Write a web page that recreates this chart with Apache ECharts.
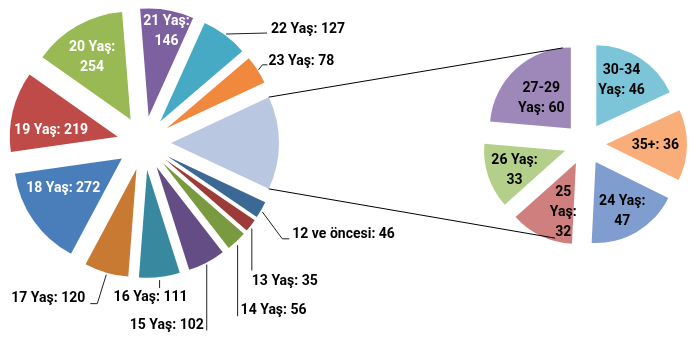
<!DOCTYPE html>
<html>
<head>
<meta charset="utf-8">
<script src="https://cdn.jsdelivr.net/npm/echarts@6/dist/echarts.min.js"></script>
<style>
  html, body { margin: 0; padding: 0; background: #ffffff; }
  #chart { width: 700px; height: 345px; }
</style>
</head>
<body>
<div id="chart"></div>
<script>
// Main pie: ages up to 23 plus one wedge grouping everyone older
const mainCategories = ['12 ve öncesi', '13 Yaş', '14 Yaş', '15 Yaş', '16 Yaş', '17 Yaş',
                        '18 Yaş', '19 Yaş', '20 Yaş', '21 Yaş', '22 Yaş', '23 Yaş'];
const mainValues = [46, 35, 56, 102, 111, 120, 272, 219, 254, 146, 127, 78];

// Secondary pie: breakdown of the grouped wedge
const subCategories = ['24 Yaş', '25 Yaş', '26 Yaş', '27-29 Yaş', '30-34 Yaş', '35+'];
const subValues = [47, 32, 33, 60, 46, 36];

// ---- styling ----
const mainColors = ['#3C6896', '#9C3B38', '#7A9A40', '#644C85', '#38899F', '#C87932',
                    '#4A7EBB', '#BE4B48', '#98B954', '#7D60A0', '#46AAC5', '#F0893E'];
const otherColor = '#B9C8E0';
const subColors = ['#7F9ECF', '#CF7F7D', '#B3CF8A', '#9E87B9', '#7CC4D8', '#F9AD78'];

// label wrapping: 'flat' one line, 'value' value on its own line,
// 'name' break before "Yaş", 'all' every word on its own line
const mainWrap = ['flat', 'flat', 'flat', 'flat', 'flat', 'flat', 'flat', 'flat', 'value', 'value', 'flat', 'flat'];
const subWrap = ['value', 'all', 'value', 'name', 'name', 'flat'];

// wedge-internal labels: [fraction of radius from the wedge tip, angular nudge in degrees]
const mainInsidePlacement = { 6: [0.61, -8], 7: [0.62, 8], 8: [0.68, 2], 9: [0.8, -2] };
const subInsidePlacement = [[0.69, -2], [0.63, 11], [0.67, 3], [0.52, 2], [0.65, 4], [0.61, -1]];

// leader lines for outside labels, relative to the middle of the wedge's outer arc:
// path: bend points, text: anchor, align: text alignment
const mainLeaders = {
  0:  { path: [[1, 2], [21, 29], [28, 29]], text: [31, 25], align: 'left' },
  1:  { path: [[1, 3], [1, 45]], text: [1, 56], align: 'left' },
  2:  { path: [[1, 4], [1, 75]], text: [4, 69], align: 'left' },
  3:  { path: [[0, 2], [0, 68]], text: [-3, 63], align: 'right' },
  4:  { path: [[0, 3], [0, 11]], text: [-9, 20], align: 'center' },
  5:  { path: [[0, 2], [-9, 31], [-16, 31]], text: [-21, 26], align: 'right' },
  10: { path: [[1, -1], [42, -2]], text: [46, -6], align: 'left' },
  11: { path: [[1, 0], [5, -5], [10, -5]], text: [11, -8], align: 'left' }
};

const FONT_FAMILY = 'Roboto, "Open Sans", "DejaVu Sans", sans-serif';
const FONT_SIZE = 14;
const LINE_HEIGHT = 20;

function wrapLabel(name, value, mode) {
  if (mode === 'value') return name + ':\n' + value;
  if (mode === 'all') return name.replace(' ', '\n') + ':\n' + value;
  if (mode === 'name') return name.replace(' ', '\n') + ': ' + value;
  return name + ': ' + value;
}

const sum = a => a.reduce((s, v) => s + v, 0);
const otherTotal = sum(subValues);
const mainTotal = sum(mainValues) + otherTotal;
// grouped wedge is centred on 3 o'clock, facing the secondary pie
const mainStart = -otherTotal / mainTotal * 180;
// secondary pie: boundary between 27-29 and 30-34 sits at 12 o'clock
const subStart = 90 - sum(subValues.slice(4)) / otherTotal * 360;

const MAIN_OFFSET = 27;
const SUB_OFFSET = 21;

const mainData = mainCategories.map((name, i) => ({
  name: name, value: mainValues[i], selected: true,
  itemStyle: { color: mainColors[i] }
}));
mainData.push({ name: 'Diğer', value: otherTotal, selected: true, itemStyle: { color: otherColor } });

const subData = subCategories.map((name, i) => ({
  name: name, value: subValues[i], selected: true,
  itemStyle: { color: subColors[i] }
}));

const chart = echarts.init(document.getElementById('chart'), null, { renderer: 'canvas' });

const pieBase = {
  type: 'pie',
  clockwise: true,
  selectedMode: 'multiple',
  avoidLabelOverlap: false,
  emphasis: { disabled: true },
  label: { show: false },
  labelLine: { show: false }
};

chart.setOption({
  animation: false,
  backgroundColor: '#ffffff',
  series: [
    Object.assign({}, pieBase, {
      center: [144, 143], radius: 108, startAngle: mainStart,
      selectedOffset: MAIN_OFFSET, data: mainData
    }),
    Object.assign({}, pieBase, {
      center: [585, 144], radius: 81, startAngle: subStart,
      selectedOffset: SUB_OFFSET, data: subData
    })
  ]
});

// ---- geometry helpers built on the pie layout computed by ECharts ----
function wedgeGeometry(layout, offset) {
  const mid = (layout.startAngle + layout.endAngle) / 2;
  const tipX = layout.cx + offset * Math.cos(mid);
  const tipY = layout.cy + offset * Math.sin(mid);
  return {
    mid: mid, r: layout.r, tipX: tipX, tipY: tipY,
    at: (angle, dist) => [tipX + dist * Math.cos(angle), tipY + dist * Math.sin(angle)]
  };
}

function textElement(x, y, text, color, align) {
  return {
    type: 'text', x: x, y: y, z: 20,
    style: {
      text: text, fill: color, align: align, verticalAlign: 'middle',
      fontFamily: FONT_FAMILY, fontWeight: 'bold', fontSize: FONT_SIZE, lineHeight: LINE_HEIGHT
    }
  };
}

function buildOverlay() {
  const model = chart.getModel();
  const mainList = model.getSeriesByIndex(0).getData();
  const subList = model.getSeriesByIndex(1).getData();
  const elements = [];
  const lineStyle = { stroke: '#000000', lineWidth: 1 };

  // labels of the main pie
  mainCategories.forEach((name, i) => {
    const g = wedgeGeometry(mainList.getItemLayout(i), MAIN_OFFSET);
    const text = wrapLabel(name, mainValues[i], mainWrap[i]);
    if (mainInsidePlacement[i]) {
      const [frac, nudge] = mainInsidePlacement[i];
      const p = g.at(g.mid - nudge * Math.PI / 180, frac * g.r);
      elements.push(textElement(p[0], p[1], text, '#ffffff', 'center'));
    } else {
      const spec = mainLeaders[i];
      const edge = g.at(g.mid, g.r);
      const pts = spec.path.map(d => [edge[0] + d[0], edge[1] + d[1]]);
      elements.push({ type: 'polyline', z: 15, shape: { points: pts },
                      style: Object.assign({ fill: null }, lineStyle, { stroke: '#222222' }) });
      elements.push(textElement(edge[0] + spec.text[0], edge[1] + spec.text[1], text, '#000000', spec.align));
    }
  });

  // labels of the secondary pie
  subCategories.forEach((name, i) => {
    const g = wedgeGeometry(subList.getItemLayout(i), SUB_OFFSET);
    const [frac, nudge] = subInsidePlacement[i];
    const p = g.at(g.mid - nudge * Math.PI / 180, frac * g.r);
    elements.push(textElement(p[0], p[1], wrapLabel(name, subValues[i], subWrap[i]), '#000000', 'center'));
  });

  // series lines joining the grouped wedge to the secondary pie
  const other = mainList.getItemLayout(mainCategories.length);
  const og = wedgeGeometry(other, MAIN_OFFSET);
  const a1 = Math.min(other.startAngle, other.endAngle);
  const a2 = Math.max(other.startAngle, other.endAngle);
  const p1 = og.at(a1, og.r);
  const p2 = og.at(a2, og.r);
  const topG = wedgeGeometry(subList.getItemLayout(3), SUB_OFFSET);
  const botG = wedgeGeometry(subList.getItemLayout(1), SUB_OFFSET);
  const q1 = topG.at(-Math.PI / 2 - 0.1, topG.r);
  const q2 = botG.at(Math.PI / 2 + 0.27, botG.r - 3);
  elements.push({ type: 'line', z: 10, shape: { x1: p1[0], y1: p1[1], x2: q1[0], y2: q1[1] }, style: lineStyle });
  elements.push({ type: 'line', z: 10, shape: { x1: p2[0], y1: p2[1], x2: q2[0], y2: q2[1] }, style: lineStyle });

  chart.setOption({ graphic: elements });
}
buildOverlay();
</script>
</body>
</html>
